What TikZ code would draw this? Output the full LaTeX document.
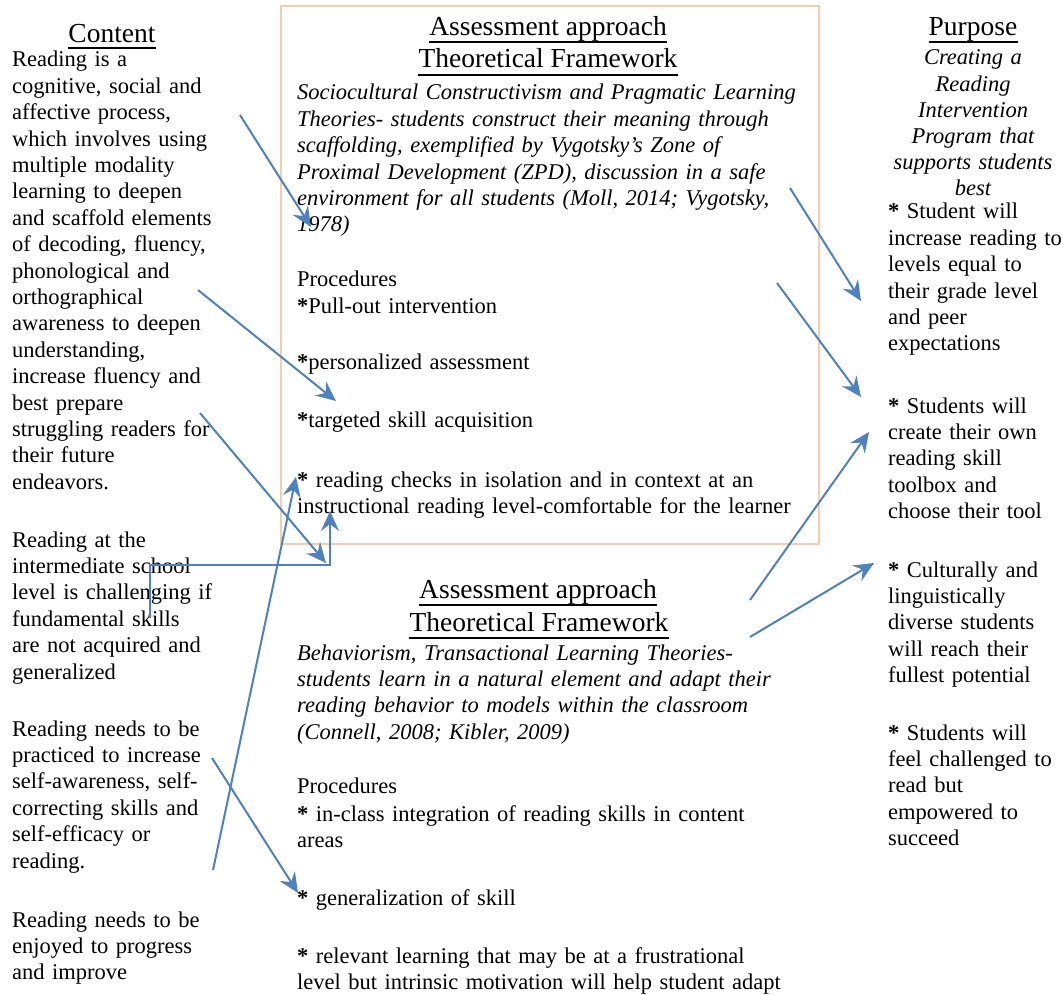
\documentclass[tikz,border=0pt]{standalone}
\usepackage{fontspec}
\setmainfont{Liberation Serif}
\usetikzlibrary{arrows.meta}
\definecolor{arrowblue}{RGB}{79,129,189}
\definecolor{boxpeach}{RGB}{246,203,175}
\newcommand{\bst}{\textbf{*}}
\begin{document}
\begin{tikzpicture}[x=1pt,y=-1pt,
  body/.style={anchor=base west, inner sep=0pt, text width=560pt, align=left, font=\fontsize{22.5}{26.4}\selectfont},
  bodyit/.style={body, font=\fontsize{22.5}{26.4}\selectfont\itshape},
  heading/.style={anchor=base, inner sep=0pt, font=\fontsize{27.5}{31.6}\selectfont},
  uline/.style={line width=1.6pt, black},
  frame/.style={draw=boxpeach, line width=2pt, anchor=north west, inner sep=0pt, minimum width=538pt, minimum height=538pt},
  arr/.style={draw=arrowblue, line width=2pt, -{Stealth[length=20pt,width=18pt,inset=7pt]}},
  elbow/.style={draw=arrowblue, line width=2pt}
]
\useasboundingbox (0,0) rectangle (1063,995);
\fill[white] (0,0) rectangle (1063,995);

% ---------- left column ----------
\node[heading] (hContent) at (112,43) {Content};
\draw[uline] ([yshift=-5pt]hContent.base west) -- ([yshift=-5pt]hContent.base east);
\node[body] (c1) at (12,67) {Reading is a\\
cognitive, social and\\
affective process,\\
which involves using\\
multiple modality\\
learning to deepen\\
and scaffold elements\\
of decoding, fluency,\\
phonological and\\
orthographical\\
awareness to deepen\\
understanding,\\
increase fluency and\\
best prepare\\
struggling readers for\\
their future\\
endeavors.};
\node[body] (c2) at (12,547) {Reading at the\\
intermediate school\\
level is challenging if\\
fundamental skills\\
are not acquired and\\
generalized};
\node[body] (c3) at (12,736) {Reading needs to be\\
practiced to increase\\
self-awareness, self-\\
correcting skills and\\
self-efficacy or\\
reading.};
\node[body] (c4) at (12,927) {Reading needs to be\\
enjoyed to progress\\
and improve};

% ---------- middle box ----------
\node[frame] (box) at (280,5) {};
\node[heading] (h1a) at (548,36) {Assessment approach};
\draw[uline] ([yshift=-6pt]h1a.base west) -- ([yshift=-6pt]h1a.base east);
\node[heading] (h1b) at (548,68) {Theoretical Framework};
\draw[uline] ([yshift=-7pt]h1b.base west) -- ([yshift=-7pt]h1b.base east);
\node[bodyit] (t1) at (297,100) {Sociocultural Constructivism and Pragmatic Learning\\
Theories- students construct their meaning through\\
scaffolding, exemplified by Vygotsky’s Zone of\\
Proximal Development (ZPD), discussion in a safe\\
environment for all students (Moll, 2014; Vygotsky,\\
1978)};
\node[body] (p1) at (297,287) {Procedures};
\node[body] (p2) at (297,313) {\bst Pull-out intervention};
\node[body] (p3) at (297,369) {\bst personalized assessment};
\node[body] (p4) at (297,427) {\bst targeted skill acquisition};
\node[body] (p5) at (297,487) {\bst\ reading checks in isolation and in context at an\\
instructional reading level-comfortable for the learner};

% ---------- lower middle ----------
\node[heading] (h2a) at (538,598) {Assessment approach};
\draw[uline] ([yshift=-7pt]h2a.base west) -- ([yshift=-7pt]h2a.base east);
\node[heading] (h2b) at (539,631) {Theoretical Framework};
\draw[uline] ([yshift=-7pt]h2b.base west) -- ([yshift=-7pt]h2b.base east);
\node[bodyit] (t2) at (297,660) {Behaviorism, Transactional Learning Theories-\\
students learn in a natural element and adapt their\\
reading behavior to models within the classroom\\
(Connell, 2008; Kibler, 2009)};
\node[body] (q1) at (297,793) {Procedures};
\node[body] (q2) at (297,821) {\bst\ in-class integration of reading skills in content\\
areas};
\node[body] (q3) at (297,905) {\bst\ generalization of skill};
\node[body] (q4) at (297,963) {\bst\ relevant learning that may be at a frustrational\\
level but intrinsic motivation will help student adapt};

% ---------- right column ----------
\node[heading] (hP) at (973,36) {Purpose};
\draw[uline] ([yshift=-6pt]hP.base west) -- ([yshift=-6pt]hP.base east);
\node[anchor=base, inner sep=0pt, text width=200pt, align=center, font=\fontsize{22.5}{26.2}\selectfont\itshape] (pi) at (973,65) {Creating a\\
Reading\\
Intervention\\
Program that\\
supports students\\
best};
\node[body] (r1) at (888,219) {\bst\ Student will\\
increase reading to\\
levels equal to\\
their grade level\\
and peer\\
expectations};
\node[body] (r2) at (888,413) {\bst\ Students will\\
create their own\\
reading skill\\
toolbox and\\
choose their tool};
\node[body] (r3) at (888,577) {\bst\ Culturally and\\
linguistically\\
diverse students\\
will reach their\\
fullest potential};
\node[body] (r4) at (888,740) {\bst\ Students will\\
feel challenged to\\
read but\\
empowered to\\
succeed};

% ---------- connectors ----------
\coordinate (a1s) at (240,115); \coordinate (a1e) at (311,227);
\coordinate (a2s) at (198,290); \coordinate (a2e) at (336,401);
\coordinate (a3s) at (200,413); \coordinate (a3e) at (326,563);
\coordinate (e1) at (150,618); \coordinate (e2) at (150,565);
\coordinate (e3) at (330,565); \coordinate (e4) at (330,511);
\coordinate (a5s) at (213,870); \coordinate (a5e) at (296,477);
\coordinate (a6s) at (212,758); \coordinate (a6e) at (298,893);
\coordinate (a7s) at (790,188); \coordinate (a7e) at (861,301);
\coordinate (a8s) at (777,283); \coordinate (a8e) at (861,397);
\coordinate (a9s) at (750,600); \coordinate (a9e) at (869,432);
\coordinate (a10s) at (750,637); \coordinate (a10e) at (874,563);

\draw[arr] (a1s) -- (a1e);
\draw[arr] (a2s) -- (a2e);
\draw[arr] (a3s) -- (a3e);
\draw[arr] (e1) -- (e2) -- (e3) -- (e4);
\draw[arr] (a5s) -- (a5e);
\draw[arr] (a6s) -- (a6e);
\draw[arr] (a7s) -- (a7e);
\draw[arr] (a8s) -- (a8e);
\draw[arr] (a9s) -- (a9e);
\draw[arr] (a10s) -- (a10e);
\end{tikzpicture}
\end{document}
